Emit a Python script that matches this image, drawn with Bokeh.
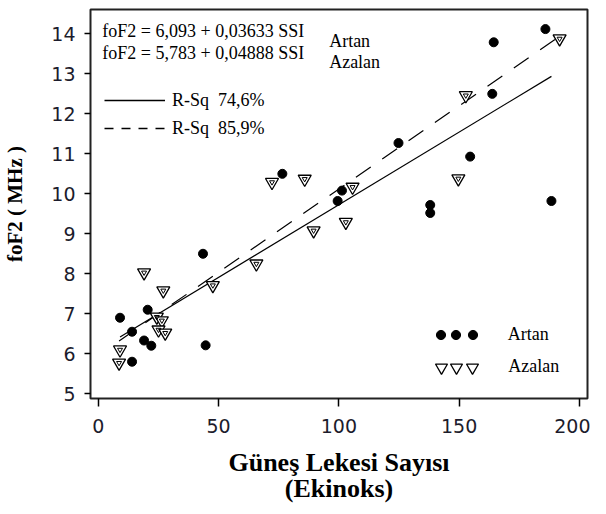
from bokeh.plotting import figure
from bokeh.models import Range1d, FixedTicker, Legend, LegendItem, Label
from bokeh.core.properties import value
from bokeh.embed import file_html
from bokeh.resources import INLINE

# ---------------- data ----------------
artan_x = [9, 14, 14, 19, 22, 20.5, 44.6, 43.5, 76.5, 101.3, 99.5, 124.8,
           138, 138, 164.4, 185.9, 163.8, 154.6, 188.4]
artan_y = [6.9, 6.55, 5.8, 6.33, 6.2, 7.1, 6.21, 8.5, 10.5, 10.08, 9.82, 11.27,
           9.72, 9.52, 13.79, 14.12, 12.5, 10.93, 9.82]

azalan_x = [19, 27, 9, 8.6, 24.3, 26.4, 25, 27.8, 47.6, 72.2, 85.8, 105.7,
            102.9, 89.5, 65.7, 152.8, 191.8, 149.7]
azalan_y = [8.03, 7.58, 6.1, 5.77, 6.92, 6.83, 6.6, 6.52, 7.71, 10.29, 10.37, 10.17,
            9.29, 9.08, 8.25, 12.46, 13.88, 10.38]

# fitted lines as drawn: intercept, slope
artan_fit = [6.093, 0.03633]
azalan_fit = [5.96, 0.0416]

equation_texts = ["foF2 = 6,093 + 0,03633 SSI", "foF2 = 5,783 + 0,04888 SSI"]
series_names = ["Artan", "Azalan"]
rsq_labels = ["R-Sq  74,6%", "R-Sq  85,9%"]

x_ticks = [0, 50, 100, 150, 200]
y_ticks = [5, 6, 7, 8, 9, 10, 11, 12, 13, 14]

x_title = "Güneş Lekesi Sayısı\n(Ekinoks)"
y_title = "foF2 ( MHz )"

# ---------------- figure ----------------
SERIF = "Liberation Serif"
p = figure(width=590, height=506,
           x_range=Range1d(-3.28, 203.4), y_range=Range1d(4.88, 14.61),
           output_backend="svg", toolbar_location=None,
           min_border_left=83, min_border_right=3,
           min_border_top=9, min_border_bottom=108)
p.xgrid.visible = False
p.ygrid.visible = False
p.outline_line_color = "#222222"
p.outline_line_width = 2
p.outline_line_alpha = 1
p.background_fill_color = "white"
p.border_fill_color = "white"

for ax in (p.xaxis, p.yaxis):
    ax.axis_line_color = None
    ax.major_tick_line_color = "black"
    ax.major_tick_line_width = 1.5
    ax.minor_tick_line_color = None
    ax.major_tick_in = 0
    ax.major_label_text_font = "DejaVu Sans"
    ax.major_label_text_font_size = "19px"
    ax.major_label_text_color = "#1c1c2c"
    ax.axis_label_text_font = SERIF
    ax.axis_label_text_font_style = "bold"
    ax.axis_label_text_color = "black"

p.xaxis.ticker = FixedTicker(ticks=x_ticks)
p.yaxis.ticker = FixedTicker(ticks=y_ticks)
p.xaxis.major_tick_out = 8
p.yaxis.major_tick_out = 6
p.xaxis.major_label_standoff = 12
p.yaxis.major_label_standoff = 9

p.xaxis.axis_label = x_title
p.xaxis.axis_label_text_font_size = "26px"
p.xaxis.axis_label_text_line_height = 0.9
p.xaxis.axis_label_standoff = 12
p.yaxis.axis_label = y_title
p.yaxis.axis_label_text_font_size = "21px"
p.yaxis.axis_label_standoff = 21

# regression lines
ax_ends = [min(artan_x), max(artan_x)]
az_ends = [min(azalan_x), max(azalan_x)]
art_line_y = [artan_fit[0] + artan_fit[1] * v for v in ax_ends]
az_line_y = [azalan_fit[0] + azalan_fit[1] * v for v in az_ends]
p.line(ax_ends, art_line_y, line_color="black", line_width=1.2)
p.line(az_ends, az_line_y, line_color="black", line_width=1.2, line_dash="18 14")

# points
r_art = p.scatter(artan_x, artan_y, marker="circle", size=9,
                  fill_color="black", line_color="black")
r_az = p.scatter(azalan_x, azalan_y, marker="inverted_triangle", size=13,
                 fill_color="white", line_color="black", line_width=1.3)
p.scatter(azalan_x, azalan_y, marker="inverted_triangle", size=5,
          fill_color=None, line_color="black", line_width=1)

# text at top-left
for txt, yv in zip(equation_texts, [14.08, 13.52]):
    p.add_layout(Label(x=1.64, y=yv, text=txt, text_font=SERIF,
                       text_font_size="18px", text_baseline="middle",
                       text_color="black"))
for txt, yv in zip(series_names, [13.83, 13.30]):
    p.add_layout(Label(x=95.96, y=yv, text=txt, text_font=SERIF,
                       text_font_size="18px", text_baseline="middle",
                       text_color="black"))

# R-Sq legend (line samples; hidden copies of the fit lines used only as legend glyphs)
leg_solid = p.line(ax_ends, art_line_y, line_color="black", line_width=1.3, visible=False)
leg_dash = p.line(az_ends, az_line_y, line_color="black", line_width=1.3,
                  line_dash="9 8", visible=False)
rsq_leg = Legend(items=[LegendItem(label=value(rsq_labels[0]), renderers=[leg_solid]),
                        LegendItem(label=value(rsq_labels[1]), renderers=[leg_dash])],
                 location=(14, 259), glyph_width=61, glyph_height=22,
                 label_height=22, label_width=0, spacing=6, padding=0, margin=0,
                 label_standoff=7, border_line_color=None,
                 background_fill_alpha=0, label_text_font=SERIF,
                 label_text_font_size="18px", label_text_color="black",
                 click_policy="none")
p.add_layout(rsq_leg)

# bottom-right legend: three markers then name
def row_legend(renderer, centers_x, center_y, box, label, standoff):
    for i, cx in enumerate(centers_x):
        last = i == len(centers_x) - 1
        lab = label if last else ""
        leg = Legend(items=[LegendItem(label=value(lab), renderers=[renderer])],
                     location=(cx - box / 2, center_y - box / 2),
                     glyph_width=box, glyph_height=box,
                     label_standoff=standoff if last else 0,
                     label_width=0, label_height=0, padding=0, margin=0,
                     spacing=0, border_line_color=None, background_fill_alpha=0,
                     label_text_font=SERIF, label_text_font_size="18px",
                     label_text_color="black")
        p.add_layout(leg)

marker_cx = [350.7, 365.7, 382.3]
row_legend(r_art, marker_cx, 64, 23, series_names[0], 24)
row_legend(r_az, marker_cx, 31.3, 30, series_names[1], 21)

open("out.html", "w").write(file_html(p, INLINE))
